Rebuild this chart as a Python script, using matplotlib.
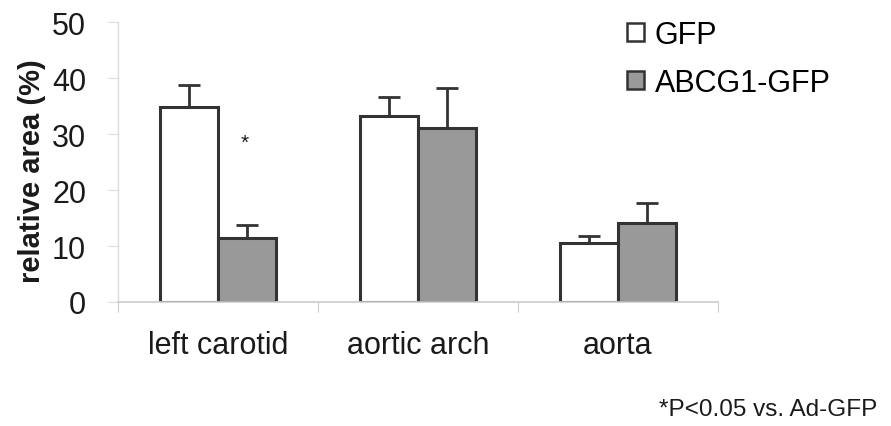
import matplotlib
matplotlib.use("Agg")
import matplotlib.pyplot as plt
import numpy as np

plt.rcParams['font.family'] = ['Liberation Sans', 'DejaVu Sans']

categories = ["left carotid", "aortic arch", "aorta"]
series_names = ["GFP", "ABCG1-GFP"]
gfp_mean = [34.8, 33.2, 10.5]
gfp_err = [3.9, 3.4, 1.3]
abcg1_mean = [11.4, 31.0, 14.1]
abcg1_err = [2.4, 7.2, 3.6]
y_ticks = [0, 10, 20, 30, 40, 50]
star_pos = (0.135, 28.5)  # category offset, value
footnote = "*P<0.05 vs. Ad-GFP"

fig = plt.figure(figsize=(8.91, 4.27), dpi=100)
ax = fig.add_axes([0.1324, 0.2904, 0.6734, 0.6556])

x = np.arange(len(categories))
w = 0.29
edge = "#333333"
txt = "#1a1a1a"
b1 = ax.bar(x - w / 2, gfp_mean, w, color="white", edgecolor=edge, linewidth=2.2,
            label=series_names[0], zorder=2)
b2 = ax.bar(x + w / 2, abcg1_mean, w, color="#999999", edgecolor=edge, linewidth=2.2,
            label=series_names[1], zorder=2)

# upper-only error bars
for xs, m, e in ((x - w / 2, gfp_mean, gfp_err), (x + w / 2, abcg1_mean, abcg1_err)):
    ax.errorbar(xs, m, yerr=[np.zeros(len(e)), e], fmt="none", ecolor=edge,
                elinewidth=2.0, capsize=8, capthick=2.0, zorder=1)

ax.text(star_pos[0], star_pos[1], "*", ha="center", va="center", fontsize=15,
        color=txt)

ax.set_xlim(-0.5, 2.5)
ax.set_ylim(0, 50)
ax.set_yticks(y_ticks)
ax.set_yticklabels([str(t) for t in y_ticks], fontsize=22, color=txt)
ax.set_xticks([-0.5, 0.5, 1.5, 2.5])
ax.set_xticklabels([])
ax.set_xticks(x, minor=True)
ax.set_xticklabels(categories, minor=True, fontsize=22, color=txt)
ax.tick_params(axis="x", which="minor", length=0, pad=20)
ax.tick_params(axis="x", which="major", length=7, color="#cccccc", direction="out")
ax.tick_params(axis="y", length=7, color="#dddddd", pad=16)

for s in ("top", "right"):
    ax.spines[s].set_visible(False)
ax.spines["left"].set_color("#dddddd")
ax.spines["bottom"].set_color("#cccccc")
ax.spines["left"].set_linewidth(1.0)
ax.spines["bottom"].set_linewidth(1.2)

ax.set_ylabel("relative area (%)", fontsize=21, fontweight="bold", color=txt)
ax.yaxis.set_label_coords(-0.12, 0.47)

leg = fig.legend(handles=[b1, b2], labels=series_names, loc="upper left",
                 bbox_to_anchor=(0.69, 0.98), frameon=False, fontsize=22,
                 handlelength=0.55, handleheight=0.55, handletextpad=0.35,
                 labelspacing=0.6, borderaxespad=0)
for h in leg.legend_handles:
    h.set_linewidth(1.8)

fig.text(0.985, 0.04, footnote, ha="right", va="center", fontsize=17.5,
         color=txt)

fig.savefig("out.png", dpi=100, facecolor="white")
